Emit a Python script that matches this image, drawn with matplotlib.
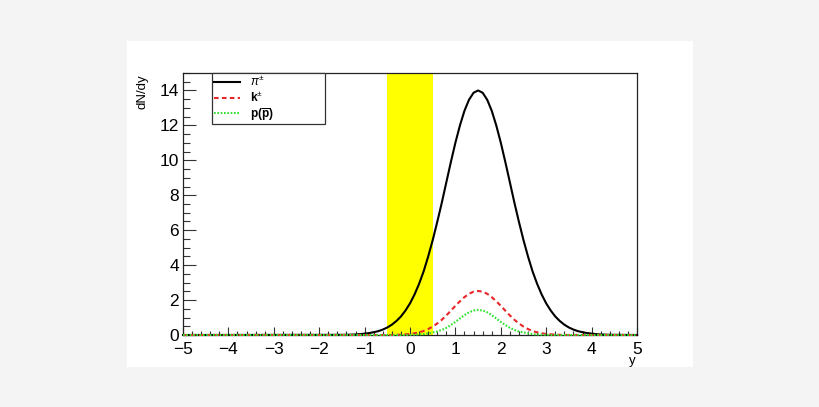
import numpy as np
import matplotlib
matplotlib.use("Agg")
import matplotlib.pyplot as plt
from matplotlib.patches import Rectangle
from matplotlib.ticker import MultipleLocator

plt.rcParams['font.family'] = ['Liberation Sans', 'DejaVu Sans']
plt.rcParams['mathtext.fontset'] = 'custom'
plt.rcParams['mathtext.rm'] = 'Liberation Sans'
plt.rcParams['mathtext.it'] = 'Liberation Sans:italic'
plt.rcParams['mathtext.bf'] = 'Liberation Sans:bold'

# rapidity grid (-1.5 .. 4.5 step 0.1) plus the range ends
y_core = [round(-1.5 + 0.1 * i, 1) for i in range(61)]
y_vals = [-5.0] + y_core + [5.0]

pion_core = [0.01, 0.01, 0.02, 0.03, 0.05, 0.08, 0.11, 0.16, 0.22, 0.31,
             0.43, 0.59, 0.80, 1.06, 1.40, 1.81, 2.32, 2.93, 3.64, 4.49,
             5.43, 6.47, 7.57, 8.74, 9.90, 11.01, 12.00, 12.84, 13.47, 13.87,
             14.00,
             13.87, 13.47, 12.84, 12.00, 11.01, 9.90, 8.74, 7.57, 6.47, 5.43,
             4.49, 3.64, 2.93, 2.32, 1.81, 1.40, 1.06, 0.80, 0.59, 0.43,
             0.31, 0.22, 0.16, 0.11, 0.08, 0.05, 0.03, 0.02, 0.01, 0.01]

kaon_core = [0.00, 0.00, 0.00, 0.00, 0.00, 0.00, 0.00, 0.00, 0.00, 0.00,
             0.00, 0.00, 0.01, 0.02, 0.04, 0.06, 0.10, 0.15, 0.23, 0.34,
             0.48, 0.66, 0.87, 1.12, 1.39, 1.67, 1.93, 2.17, 2.36, 2.48,
             2.52,
             2.48, 2.36, 2.17, 1.93, 1.67, 1.39, 1.12, 0.87, 0.66, 0.48,
             0.34, 0.23, 0.15, 0.10, 0.06, 0.04, 0.02, 0.01, 0.00, 0.00,
             0.00, 0.00, 0.00, 0.00, 0.00, 0.00, 0.00, 0.00, 0.00, 0.00]

proton_core = [0.00, 0.00, 0.00, 0.00, 0.00, 0.00, 0.00, 0.00, 0.00, 0.00,
               0.00, 0.00, 0.00, 0.00, 0.00, 0.01, 0.02, 0.03, 0.05, 0.09,
               0.15, 0.20, 0.29, 0.41, 0.57, 0.75, 0.95, 1.14, 1.30, 1.40,
               1.44,
               1.40, 1.30, 1.14, 0.95, 0.75, 0.57, 0.41, 0.29, 0.20, 0.15,
               0.09, 0.05, 0.03, 0.02, 0.01, 0.00, 0.00, 0.00, 0.00, 0.00,
               0.00, 0.00, 0.00, 0.00, 0.00, 0.00, 0.00, 0.00, 0.00, 0.00]

pion = [0.0] + pion_core + [0.0]
kaon = [0.0] + kaon_core + [0.0]
proton = [0.0] + proton_core + [0.0]

band = [-0.5, 0.5]
labels = [r'$\pi^{\pm}$', r'$\mathbf{k}^{\pm}$', r'$\mathbf{p(\overline{p})}$']

fig = plt.figure(figsize=(8.2, 4.07), dpi=100)
fig.patch.set_facecolor('#f4f4f4')
canvas_rect = Rectangle((127 / 820, 1 - 367 / 407), 566 / 820, 326 / 407,
                        transform=fig.transFigure, facecolor='white',
                        edgecolor='none', zorder=-10)
fig.patches.append(canvas_rect)

ax = fig.add_axes([183 / 820, 1 - 335 / 407, 454 / 820, 262 / 407])
ax.set_zorder(5)
ax.set_facecolor('white')
ax.axvspan(band[0], band[1], color='#ffff00', zorder=1, lw=0)

ax.plot(y_vals, pion, color='black', lw=1.5, label=labels[0], zorder=3, clip_on=False)
ax.plot(y_vals, kaon, color='#e8262a', lw=1.5, ls=(0, (2.2, 1.6)), label=labels[1], zorder=4, clip_on=False)
ax.plot(y_vals, proton, color='#2ee22e', lw=1.5, ls=(0, (0.8, 0.8)), label=labels[2], zorder=5, clip_on=False)

ax.set_xlim(-5, 5)
ax.set_ylim(0, 15)
ax.xaxis.set_major_locator(MultipleLocator(1))
ax.xaxis.set_minor_locator(MultipleLocator(0.2))
ax.yaxis.set_major_locator(MultipleLocator(2))
ax.yaxis.set_minor_locator(MultipleLocator(0.5))
ax.tick_params(axis='both', which='both', direction='in', color='#333333', width=0.8,
               labelsize=12.5, top=False, right=False)
ax.tick_params(axis='y', which='major', length=9.5, pad=3)
ax.tick_params(axis='y', which='minor', length=5)
ax.tick_params(axis='x', which='major', length=6, pad=5)
ax.tick_params(axis='x', which='minor', length=3)
for s in ax.spines.values():
    s.set_linewidth(0.9)
    s.set_color('#222222')

fig.text(143 / 820, 1 - 74 / 407, 'dN/dy', rotation=90, ha='center', va='top', fontsize=9.5)
fig.text(636 / 820, 1 - 355 / 407, 'y', ha='right', va='top', fontsize=9.5)

leg = ax.legend(loc='upper left', bbox_to_anchor=(29 / 454, 0, 113 / 454, 1.0),
                mode='expand', borderaxespad=0, frameon=True, fancybox=False,
                framealpha=1, edgecolor='#333333', fontsize=8.5, handlelength=2.2,
                handletextpad=0.9, labelspacing=0.08, borderpad=0.15)
leg.get_frame().set_linewidth(0.9)
leg.set_zorder(10)

fig.savefig('out.png', dpi=100, facecolor=fig.get_facecolor())
